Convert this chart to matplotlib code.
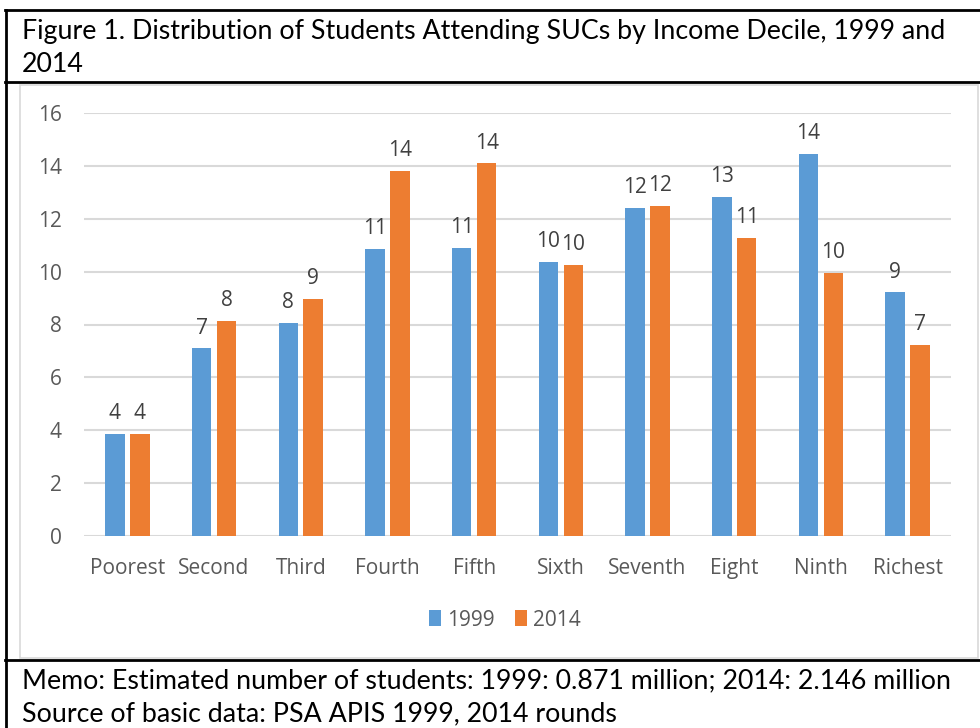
import matplotlib
matplotlib.use("Agg")
import matplotlib.pyplot as plt
from matplotlib.lines import Line2D
from matplotlib.patches import Rectangle
import numpy as np

# Data
deciles = ['Poorest', 'Second', 'Third', 'Fourth', 'Fifth',
           'Sixth', 'Seventh', 'Eight', 'Ninth', 'Richest']
share_1999 = [3.85, 7.10, 8.07, 10.85, 10.89, 10.36, 12.42, 12.82, 14.45, 9.22]
share_2014 = [3.85, 8.13, 8.96, 13.80, 14.10, 10.25, 12.48, 11.27, 9.96, 7.22]
yticks = [0, 2, 4, 6, 8, 10, 12, 14, 16]

W, H = 980, 728
BLUE = '#5B9BD5'
ORANGE = '#ED7D31'
GREY_TXT = '#595959'
CHART_FONT = 'Open Sans'
TEXT_FONT = 'Lato'


def fx(px):
    return px / W


def fy(py):
    return 1 - py / H


fig = plt.figure(figsize=(W / 100, H / 100), dpi=100)

# outer table borders
def hline(y, x0, x1, color='black', lw=2.0):
    fig.add_artist(Line2D([fx(x0), fx(x1)], [fy(y), fy(y)], color=color,
                          lw=lw, transform=fig.transFigure))


def vline(x, y0, y1, color='black', lw=2.0):
    fig.add_artist(Line2D([fx(x), fx(x)], [fy(y0), fy(y1)], color=color,
                          lw=lw, transform=fig.transFigure))


hline(10, 5, 980)
hline(82, 5, 980)
hline(660, 5, 980)
vline(6, 10, 728)

# inner chart frame
fig.add_artist(Rectangle((fx(20), fy(658)), fx(978) - fx(20), fy(85) - fy(658),
                         transform=fig.transFigure, fill=False,
                         edgecolor='#d9d9d9', lw=1.2))

# title and notes
TXT_SIZE = 19.3
fig.text(fx(22), fy(31), 'Figure 1. Distribution of Students Attending SUCs by Income Decile, 1999 and',
         fontsize=TXT_SIZE, family=TEXT_FONT, va='center', ha='left', color='black')
fig.text(fx(22), fy(65), '2014', fontsize=TXT_SIZE, family=TEXT_FONT,
         va='center', ha='left', color='black')
fig.text(fx(22), fy(681), 'Memo: Estimated number of students: 1999: 0.871 million; 2014: 2.146 million',
         fontsize=TXT_SIZE, family=TEXT_FONT, va='center', ha='left', color='black')
fig.text(fx(22), fy(714), 'Source of basic data: PSA APIS 1999, 2014 rounds',
         fontsize=TXT_SIZE, family=TEXT_FONT, va='center', ha='left', color='black')

# chart axes
ax = fig.add_axes([fx(84), fy(536), fx(951) - fx(84), fy(113) - fy(536)])
x = np.arange(len(deciles))
bw = 0.225
off = 0.144
b1 = ax.bar(x - off, share_1999, bw, color=BLUE, label='1999', zorder=3)
b2 = ax.bar(x + off, share_2014, bw, color=ORANGE, label='2014', zorder=3)

for bars, vals in [(b1, share_1999), (b2, share_2014)]:
    for rect, v in zip(bars, vals):
        ax.annotate(f'{v:.0f}', (rect.get_x() + rect.get_width() / 2, v),
                    xytext=(0, 7), textcoords='offset points',
                    ha='center', va='bottom', fontsize=15,
                    family=CHART_FONT, color='#404040')

ax.set_xlim(-0.5, len(deciles) - 0.5)
ax.set_ylim(0, 16)
ax.set_yticks(yticks)
ax.set_xticks(x)
ax.set_xticklabels(deciles)
ax.yaxis.grid(True, color='#d9d9d9', lw=1.5, zorder=0)
ax.set_axisbelow(True)
for s in ax.spines.values():
    s.set_visible(False)
ax.tick_params(axis='both', length=0, labelsize=15, labelcolor=GREY_TXT)
ax.tick_params(axis='y', pad=16)
ax.tick_params(axis='x', pad=16)
for lab in ax.get_xticklabels() + ax.get_yticklabels():
    lab.set_family(CHART_FONT)

leg = fig.legend(handles=[b1, b2], labels=['1999', '2014'], loc='center',
                 bbox_to_anchor=(fx(505), fy(620)), ncol=2, frameon=False,
                 prop={'family': CHART_FONT, 'size': 15},
                 handlelength=0.55, handleheight=0.8, handletextpad=0.3,
                 columnspacing=1.0)
for t in leg.get_texts():
    t.set_color(GREY_TXT)

fig.savefig('out.png', dpi=100)
